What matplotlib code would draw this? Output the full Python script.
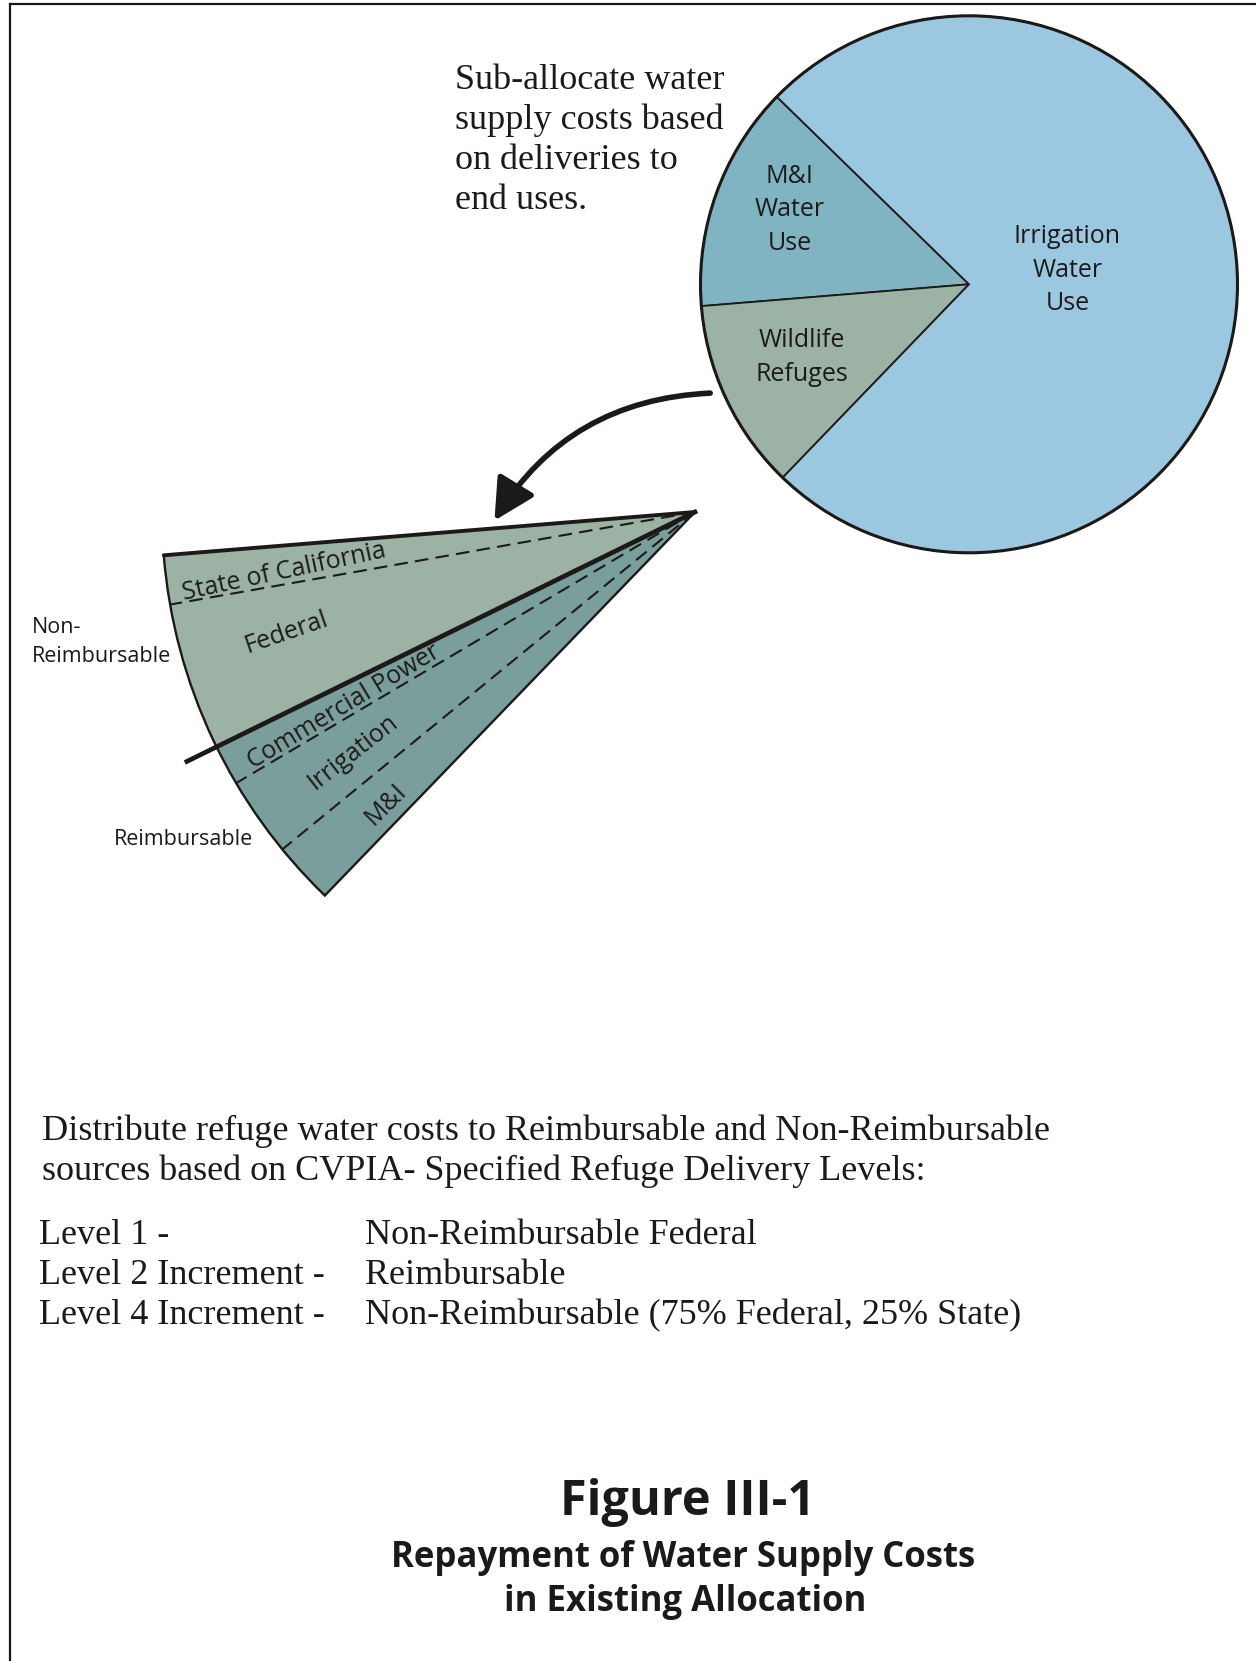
import matplotlib
matplotlib.use("Agg")
import matplotlib.pyplot as plt
import numpy as np
from matplotlib.patches import Arc, Circle, FancyArrowPatch

W, H = 1256, 1661

# ---------------- data ----------------
pie_labels = ["M&I\nWater\nUse", "Wildlife\nRefuges", "Irrigation\nWater\nUse"]
pie_values = [13.6, 11.5, 74.9]          # percent of water supply costs
pie_colors = ["#80B4C3", "#9BB2A5", "#9BC7E1"]

fan_labels = ["State of California", "Federal", "Commercial Power", "Irrigation", "M&I"]
fan_shares = [12.9, 39.0, 10.7, 21.0, 16.3]   # percent of refuge water costs
fan_groups = ["Non-Reimbursable", "Non-Reimbursable",
              "Reimbursable", "Reimbursable", "Reimbursable"]
group_colors = {"Non-Reimbursable": "#9BB2A5", "Reimbursable": "#7A9E9B"}
group_labels = ["Non-\nReimbursable", "Reimbursable"]

intro_text = ["Sub-allocate water", "supply costs based", "on deliveries to", "end uses."]
dist_text = ["Distribute refuge water costs to Reimbursable and Non-Reimbursable",
             "sources based on CVPIA- Specified Refuge Delivery Levels:"]
level_names = ["Level 1 -", "Level 2 Increment -", "Level 4 Increment -"]
level_rules = ["Non-Reimbursable Federal", "Reimbursable",
               "Non-Reimbursable (75% Federal, 25% State)"]
title_lines = ["Figure III-1", "Repayment of Water Supply Costs", "in Existing Allocation"]

# ---------------- figure ----------------
SERIF = ["Liberation Serif", "DejaVu Serif"]
SANS = ["Open Sans", "DejaVu Sans"]
INK = "#1c1a19"
DY = 3.5   # small vertical correction for text centring

fig = plt.figure(figsize=(W / 100, H / 100), dpi=100)
ax = fig.add_axes([0, 0, 1, 1])


def Y(y):
    return H - y


def TY(y):
    return H - y - DY


# main pie
pie_center = (969, Y(284.3))
pie_r = 268.5
start = 135.7
tot = sum(pie_values)
ax.pie(pie_values, colors=pie_colors, startangle=start, counterclock=True,
       center=pie_center, radius=pie_r,
       wedgeprops=dict(edgecolor=INK, linewidth=1.3))
ax.add_patch(Circle(pie_center, pie_r, fill=False, ec=INK, lw=2.2, zorder=3))

pie_label_pos = [(790, [172.6, 206.5, 240.4]),
                 (802, [336.8, 370.7]),
                 (1067.5, [233, 267, 300])]
for lab, (x, ys) in zip(pie_labels, pie_label_pos):
    for line, y in zip(lab.split("\n"), ys):
        ax.text(x, TY(y), line, ha="center", va="center", fontsize=18,
                family=SANS, color=INK, zorder=5)

# fan (exploded refuge slice)
wl_start = start + pie_values[0] / tot * 360
wl_span = pie_values[1] / tot * 360
apex = (695, Y(512))
fan_r = 533
fan_vals = [s / 100 * pie_values[1] / tot for s in fan_shares]
fcols = [group_colors[g] for g in fan_groups]
fw, _ = ax.pie(fan_vals, normalize=False, startangle=wl_start, counterclock=True,
               center=apex, radius=fan_r, colors=fcols,
               wedgeprops=dict(linewidth=0.8))
for w, c in zip(fw, fcols):
    w.set_edgecolor(c)

bounds = wl_start + np.concatenate([[0], np.cumsum(fan_shares) / 100 * wl_span])


def ray(theta, r):
    t = np.deg2rad(theta)
    return [apex[0], apex[0] + r * np.cos(t)], [apex[1], apex[1] + r * np.sin(t)]


xs, ys = ray(bounds[0], fan_r)
ax.plot(xs, ys, color=INK, lw=2.8, solid_capstyle="round", zorder=4)
xs, ys = ray(bounds[-1], fan_r)
ax.plot(xs, ys, color=INK, lw=1.7, zorder=4)
ax.add_patch(Arc(apex, 2 * fan_r, 2 * fan_r, theta1=bounds[0], theta2=bounds[-1],
                 color=INK, lw=1.7, zorder=4))
for i in range(1, len(fan_shares)):
    if fan_groups[i] != fan_groups[i - 1]:
        xs, ys = ray(bounds[i], 566)
        ax.plot(xs, ys, color=INK, lw=3.4, zorder=4)
    else:
        xs, ys = ray(bounds[i], fan_r)
        ax.plot(xs, ys, color=INK, lw=1.5, dashes=(6.5, 3.5), zorder=4)

fan_label_pos = [(284, 572, 12), (286, 633, 19), (344, 707, 31),
                 (353, 752, 38), (386, 804, 45)]
for lab, (x, y, rot) in zip(fan_labels, fan_label_pos):
    ax.text(x, Y(y), lab, ha="center", va="center", rotation=rot,
            rotation_mode="anchor", fontsize=18, family=SANS, color=INK, zorder=5)

ax.text(32, TY(624), group_labels[0].split("\n")[0], ha="left", va="center",
        fontsize=15.5, family=SANS, color=INK)
ax.text(32, TY(653), group_labels[0].split("\n")[1], ha="left", va="center",
        fontsize=15.5, family=SANS, color=INK)
ax.text(114, TY(836), group_labels[1], ha="left", va="center",
        fontsize=15.5, family=SANS, color=INK)

# curved arrow
arrow = FancyArrowPatch((713, Y(393)), (493, Y(523)),
                        connectionstyle="arc3,rad=0.27",
                        arrowstyle="-|>,head_length=1.25,head_width=0.65",
                        mutation_scale=20, lw=4.0, color=INK, zorder=6)
ax.add_patch(arrow)

# texts
for line, y in zip(intro_text, [77.3, 116.5, 156.7, 197]):
    ax.text(455, TY(y), line, ha="left", va="center", fontsize=26,
            family=SERIF, color=INK)
for line, y in zip(dist_text, [1128, 1168]):
    ax.text(42, TY(y), line, ha="left", va="center", fontsize=26,
            family=SERIF, color=INK)
for name, rule, y in zip(level_names, level_rules, [1231.6, 1272, 1312]):
    ax.text(39, TY(y), name, ha="left", va="center", fontsize=26,
            family=SERIF, color=INK)
    ax.text(365, TY(y), rule, ha="left", va="center", fontsize=26,
            family=SERIF, color=INK)

ax.text(688, TY(1499), title_lines[0], ha="center", va="center", fontsize=35,
        family=SANS, weight="bold", color=INK)
ax.text(683, TY(1555), title_lines[1], ha="center", va="center", fontsize=25,
        family=SANS, weight="bold", color=INK)
ax.text(685, TY(1598), title_lines[2], ha="center", va="center", fontsize=25,
        family=SANS, weight="bold", color=INK)

# frame
ax.plot([10, W], [Y(4), Y(4)], color=INK, lw=1.6)
ax.plot([10, 10], [Y(4), 0], color=INK, lw=1.6)

ax.set_xlim(0, W)
ax.set_ylim(0, H)
ax.set_aspect("equal")
ax.axis("off")
fig.savefig("out.png", dpi=100)
